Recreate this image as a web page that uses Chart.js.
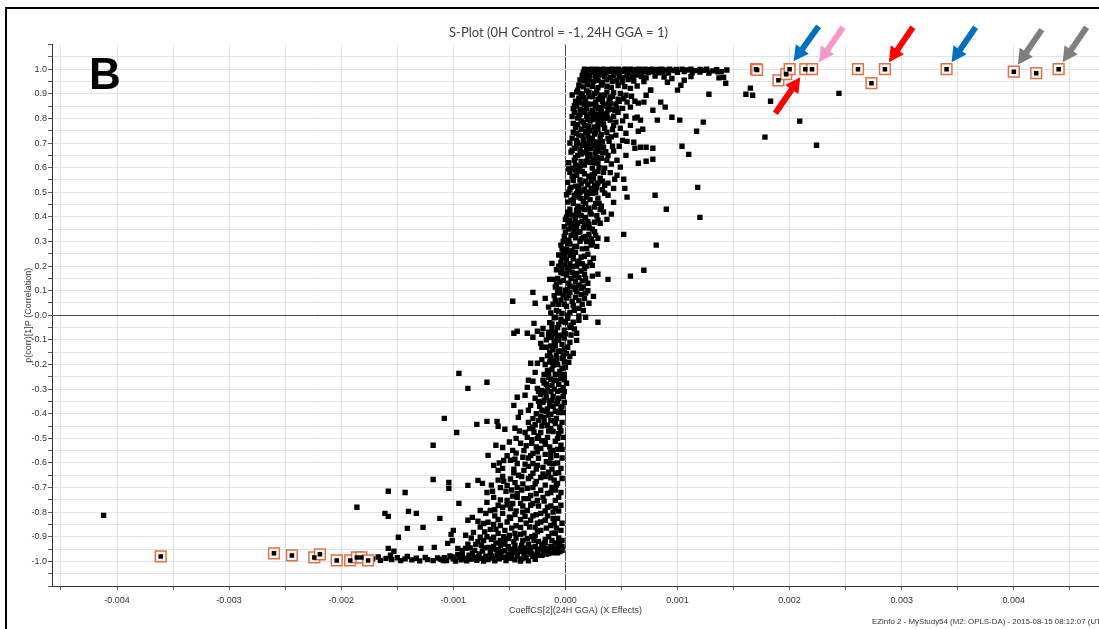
<!DOCTYPE html>
<html>
<head>
<meta charset="utf-8">
<title>S-Plot</title>
<script src="https://cdn.jsdelivr.net/npm/chart.js@4.4.1/dist/chart.umd.min.js"></script>
<style>
  html, body { margin: 0; padding: 0; background: #fff; }
  #wrap { width: 1099px; height: 629px; }
</style>
</head>
<body>
<div id="wrap"><canvas id="splot" width="1099" height="629"></canvas></div>
<script>
// S-plot, values
// x = CoeffCS[2](24H GGA), y = p(corr)[1]P

// dense top band, corr close to 1
const topBand = [
  [17e-5,1.0],[20e-5,0.998],[23e-5,1.0],[26e-5,0.996],[28e-5,1.0],[31e-5,0.998],[34e-5,1.0],[37e-5,0.995],[39e-5,0.999],[42e-5,1.0],
  [45e-5,0.997],[47e-5,1.0],[50e-5,0.996],[53e-5,1.0],[55e-5,0.998],[58e-5,1.0],[61e-5,0.995],[63e-5,0.999],[66e-5,1.0],[69e-5,0.997],
  [71e-5,1.0],[74e-5,0.998],[77e-5,1.0],[79e-5,0.996],[82e-5,0.999],[86e-5,1.0],[89e-5,0.997],[93e-5,1.0],[97e-5,0.995],[99e-5,0.999],
  [104e-5,1.0],[108e-5,0.997],[112e-5,1.0],[115e-5,0.994],[120e-5,0.999],[123e-5,0.996],[126e-5,1.0],[131e-5,0.993],[135e-5,0.998],[139e-5,0.99],[144e-5,0.997],
  [16e-5,0.988],[19e-5,0.985],[24e-5,0.99],[27e-5,0.986],[32e-5,0.989],[36e-5,0.984],[40e-5,0.99],[44e-5,0.987],[48e-5,0.985],[52e-5,0.99],
  [56e-5,0.986],[61e-5,0.988],[65e-5,0.984],[70e-5,0.989],[74e-5,0.986],[78e-5,0.99],[83e-5,0.985],[87e-5,0.988],[92e-5,0.984],[100e-5,0.987],
  [106e-5,0.99],[113e-5,0.985],[120e-5,0.988],[128e-5,0.984],[136e-5,0.989],
  [15e-5,0.975],[18e-5,0.97],[22e-5,0.974],[27e-5,0.968],[31e-5,0.976],[35e-5,0.971],[40e-5,0.967],[43e-5,0.975],[48e-5,0.97],[51e-5,0.966],
  [55e-5,0.974],[60e-5,0.969],[64e-5,0.976],[68e-5,0.97],[72e-5,0.965],[80e-5,0.972],[88e-5,0.968],[95e-5,0.962],[112e-5,0.97],[137e-5,0.965],
  [13e-5,0.956],[17e-5,0.952],[21e-5,0.958],[25e-5,0.95],[29e-5,0.955],[33e-5,0.947],[37e-5,0.957],[42e-5,0.951],[46e-5,0.954],[51e-5,0.948],
  [56e-5,0.958],[61e-5,0.952],[70e-5,0.95],[91e-5,0.947],[106e-5,0.955],[141e-5,0.967],[143e-5,0.943],
  [12e-5,0.935],[16e-5,0.928],[20e-5,0.937],[24e-5,0.93],[29e-5,0.925],[32e-5,0.936],[37e-5,0.931],[41e-5,0.926],[47e-5,0.934],[53e-5,0.929],
  [58e-5,0.922],[64e-5,0.932],[76e-5,0.915],[100e-5,0.915],[103e-5,0.935]
];

// the upper stem, corr 0 .. 0.92
const upperStem = [
  [10e-5,0.907],[12e-5,0.882],[15e-5,0.898],[18e-5,0.874],[21e-5,0.89],[23e-5,0.858],[26e-5,0.902],[29e-5,0.878],[31e-5,0.894],[34e-5,0.85],
  [37e-5,0.907],[39e-5,0.874],[42e-5,0.89],[45e-5,0.858],[49e-5,0.902],[10e-5,0.85],[13e-5,0.837],[19e-5,0.841],[24e-5,0.833],[29e-5,0.841],
  [36e-5,0.858],[41e-5,0.837],[47e-5,0.878],[51e-5,0.841],[54e-5,0.894],[55e-5,0.866],[59e-5,0.89],[65e-5,0.862],[70e-5,0.866],[72e-5,0.894],
  [76e-5,0.915],[78e-5,0.833],[85e-5,0.866],[89e-5,0.846],[15e-5,0.862],[21e-5,0.907],[33e-5,0.87],[44e-5,0.833],[58e-5,0.846],[9e-5,0.87],
  [8e-5,0.825],[11e-5,0.801],[13e-5,0.817],[16e-5,0.785],[19e-5,0.809],[21e-5,0.768],[24e-5,0.825],[27e-5,0.797],[29e-5,0.776],[32e-5,0.813],
  [35e-5,0.76],[37e-5,0.821],[40e-5,0.793],[43e-5,0.772],[47e-5,0.825],[9e-5,0.764],[14e-5,0.756],[22e-5,0.789],[29e-5,0.756],[34e-5,0.797],
  [45e-5,0.785],[49e-5,0.76],[54e-5,0.809],[58e-5,0.772],[64e-5,0.805],[67e-5,0.793],[62e-5,0.801],[69e-5,0.756],[82e-5,0.793],[95e-5,0.805],
  [102e-5,0.793],[123e-5,0.785],[43e-5,0.809],
  [7e-5,0.744],[10e-5,0.711],[12e-5,0.732],[15e-5,0.691],[18e-5,0.748],[21e-5,0.715],[23e-5,0.679],[26e-5,0.736],[29e-5,0.703],[31e-5,0.724],
  [34e-5,0.683],[37e-5,0.744],[39e-5,0.707],[8e-5,0.679],[13e-5,0.671],[20e-5,0.695],[28e-5,0.671],[42e-5,0.687],[45e-5,0.732],[48e-5,0.687],
  [51e-5,0.711],[55e-5,0.707],[61e-5,0.703],[62e-5,0.679],[65e-5,0.748],[67e-5,0.683],[72e-5,0.683],[78e-5,0.679],[104e-5,0.687],[117e-5,0.748],[54e-5,0.74],
  [5e-5,0.663],[8e-5,0.63],[11e-5,0.65],[13e-5,0.606],[16e-5,0.663],[19e-5,0.626],[21e-5,0.646],[24e-5,0.598],[27e-5,0.659],[29e-5,0.618],
  [32e-5,0.638],[35e-5,0.598],[6e-5,0.598],[12e-5,0.589],[22e-5,0.622],[38e-5,0.65],[43e-5,0.667],[46e-5,0.63],[49e-5,0.602],[65e-5,0.618],
  [72e-5,0.626],[78e-5,0.634],[110e-5,0.654],[54e-5,0.65],[29e-5,0.667],
  [4e-5,0.581],[7e-5,0.549],[10e-5,0.569],[12e-5,0.524],[15e-5,0.585],[18e-5,0.545],[21e-5,0.565],[23e-5,0.516],[26e-5,0.577],[29e-5,0.537],
  [31e-5,0.557],[4e-5,0.512],[11e-5,0.508],[17e-5,0.512],[35e-5,0.528],[38e-5,0.537],[43e-5,0.516],[44e-5,0.553],[46e-5,0.569],[52e-5,0.553],
  [53e-5,0.516],[34e-5,0.581],[118e-5,0.52],[40e-5,0.58],
  [3e-5,0.5],[5e-5,0.467],[8e-5,0.488],[11e-5,0.443],[13e-5,0.5],[16e-5,0.463],[19e-5,0.48],[21e-5,0.435],[24e-5,0.496],[27e-5,0.455],
  [29e-5,0.476],[4e-5,0.431],[10e-5,0.427],[15e-5,0.439],[32e-5,0.443],[38e-5,0.488],[43e-5,0.459],[55e-5,0.48],[80e-5,0.488],[90e-5,0.431],[35e-5,0.496],
  [2e-5,0.419],[4e-5,0.386],[7e-5,0.407],[10e-5,0.362],[12e-5,0.419],[15e-5,0.382],[18e-5,0.398],[21e-5,0.354],[23e-5,0.411],[26e-5,0.378],
  [29e-5,0.386],[31e-5,0.374],[3e-5,0.35],[8e-5,0.346],[41e-5,0.411],[37e-5,0.39],[120e-5,0.398],[34e-5,0.42],
  [0,0.337],[3e-5,0.305],[5e-5,0.325],[8e-5,0.28],[11e-5,0.337],[13e-5,0.301],[16e-5,0.317],[19e-5,0.272],[21e-5,0.329],[24e-5,0.297],
  [27e-5,0.325],[1e-5,0.268],[6e-5,0.264],[29e-5,0.313],[37e-5,0.309],[52e-5,0.329],[81e-5,0.285],[28e-5,0.28],[-2e-5,0.3],[-3e-5,0.27],
  [-2e-5,0.256],[1e-5,0.224],[4e-5,0.244],[6e-5,0.199],[9e-5,0.256],[12e-5,0.22],[14e-5,0.236],[17e-5,0.191],[20e-5,0.248],[22e-5,0.215],
  [-3e-5,0.191],[3e-5,0.183],[24e-5,0.203],[-12e-5,0.211],[70e-5,0.183],[25e-5,0.232],[-4e-5,0.215],
  [-4e-5,0.175],[-2e-5,0.142],[1e-5,0.163],[4e-5,0.118],[6e-5,0.175],[9e-5,0.138],[12e-5,0.154],[14e-5,0.11],[17e-5,0.167],[20e-5,0.13],
  [-14e-5,0.146],[-11e-5,0.146],[29e-5,0.167],[38e-5,0.146],[58e-5,0.159],[12e-5,0.122],[-5e-5,0.106],[0,0.102],[24e-5,0.159],[-8e-5,0.126],
  [-7e-5,0.093],[-4e-5,0.061],[-2e-5,0.081],[1e-5,0.037],[4e-5,0.093],[6e-5,0.057],[9e-5,0.073],[12e-5,0.028],[14e-5,0.085],[-8e-5,0.02],
  [-3e-5,0.008],[4e-5,0.012],[17e-5,0.069],[25e-5,0.077],[-15e-5,0.033],[-29e-5,0.093],[-27e-5,0.049],[-47e-5,0.057],[21e-5,0.049],[-18e-5,0.069],
  [-11e-5,0.045],[9e-5,0.106]
];

// more of the crowded stem above zero
const upperFill = [
  [6e-5,0.895],[14e-5,0.9],[27e-5,0.865],[40e-5,0.86],[48e-5,0.87],[52e-5,0.88],[62e-5,0.87],[17e-5,0.855],[31e-5,0.845],
  [7e-5,0.84],[17e-5,0.825],[25e-5,0.81],[31e-5,0.78],[38e-5,0.8],[42e-5,0.755],[51e-5,0.79],[11e-5,0.775],[20e-5,0.795],[26e-5,0.765],[35e-5,0.815],
  [6e-5,0.72],[16e-5,0.71],[24e-5,0.72],[33e-5,0.705],[41e-5,0.725],[10e-5,0.69],[19e-5,0.675],[27e-5,0.69],[36e-5,0.665],[9e-5,0.64],
  [14e-5,0.625],[18e-5,0.66],[25e-5,0.635],[30e-5,0.6],[41e-5,0.615],[3e-5,0.62],
  [6e-5,0.565],[13e-5,0.55],[20e-5,0.53],[25e-5,0.555],[33e-5,0.545],[2e-5,0.54],[9e-5,0.525],[15e-5,0.505],[27e-5,0.5],[7e-5,0.47],
  [12e-5,0.48],[18e-5,0.455],[22e-5,0.47],[2e-5,0.46],[30e-5,0.455],
  [1e-5,0.4],[6e-5,0.37],[9e-5,0.39],[14e-5,0.405],[17e-5,0.365],[20e-5,0.38],[24e-5,0.35],[5e-5,0.355],[-1e-5,0.36],[13e-5,0.34],
  [18e-5,0.32],[9e-5,0.315],[2e-5,0.29],[23e-5,0.31],
  [-1e-5,0.24],[7e-5,0.23],[10e-5,0.2],[15e-5,0.21],[-6e-5,0.2],[2e-5,0.195],[8e-5,0.16],[15e-5,0.14],[-7e-5,0.15],[3e-5,0.13],
  [10e-5,0.095],[-10e-5,0.08],[1e-5,0.07],[7e-5,0.04],[-6e-5,0.045],[16e-5,0.02],[-13e-5,0.01],
  [11e-5,0.915],[19e-5,0.912],[28e-5,0.91],[35e-5,0.895],[43e-5,0.905],[24e-5,0.888],[16e-5,0.885],[33e-5,0.884],[40e-5,0.884],
  [12e-5,0.866],[20e-5,0.858],[27e-5,0.85],[39e-5,0.848],[8e-5,0.852],[17e-5,0.832],[32e-5,0.828],[38e-5,0.835],[46e-5,0.842],[22e-5,0.818],
  [28e-5,0.818],[12e-5,0.81],[6e-5,0.808],
  [14e-5,0.79],[24e-5,0.795],[30e-5,0.8],[17e-5,0.77],[34e-5,0.775],[7e-5,0.78],[22e-5,0.75],[27e-5,0.745],[10e-5,0.74],[32e-5,0.735],
  [15e-5,0.73],[38e-5,0.72],[20e-5,0.73],[25e-5,0.705],[4e-5,0.7],
  [11e-5,0.7],[17e-5,0.695],[23e-5,0.69],[31e-5,0.685],[6e-5,0.67],[14e-5,0.655],[22e-5,0.655],[33e-5,0.66],[26e-5,0.62],[17e-5,0.61],
  [9e-5,0.61],[37e-5,0.63],[20e-5,0.645],[28e-5,0.64],
  [3e-5,0.595],[9e-5,0.59],[17e-5,0.575],[24e-5,0.57],[29e-5,0.585],[7e-5,0.56],[14e-5,0.535],[23e-5,0.545],[28e-5,0.52],[5e-5,0.52],
  [19e-5,0.5],[10e-5,0.495],[33e-5,0.51],[26e-5,0.53],
  [1e-5,0.49],[7e-5,0.455],[14e-5,0.475],[17e-5,0.43],[22e-5,0.42],[26e-5,0.44],[11e-5,0.41],[4e-5,0.41],[20e-5,0.495],[31e-5,0.43],[28e-5,0.405],
  [0,0.39],[3e-5,0.375],[11e-5,0.375],[16e-5,0.355],[21e-5,0.37],[26e-5,0.34],[7e-5,0.33],[14e-5,0.31],[19e-5,0.3],[-1e-5,0.32],[4e-5,0.29],[23e-5,0.285],
  [-4e-5,0.285],[2e-5,0.26],[10e-5,0.28],[15e-5,0.27],[17e-5,0.24],[7e-5,0.25],[-3e-5,0.235],[11e-5,0.21],[19e-5,0.2],[-6e-5,0.245],[4e-5,0.21],[-1e-5,0.205],
  [-8e-5,0.185],[-2e-5,0.17],[5e-5,0.15],[10e-5,0.17],[14e-5,0.18],[18e-5,0.15],[-5e-5,0.135],[8e-5,0.115],[16e-5,0.115],[-9e-5,0.115],[2e-5,0.105],[20e-5,0.1],
  [-5e-5,0.09],[3e-5,0.08],[12e-5,0.06],[-9e-5,0.06],[-1e-5,0.045],[8e-5,0.02],[15e-5,0.045],[-6e-5,0.015],[2e-5,0.0],[18e-5,0.09]
];

// the lower stem, corr 0 .. -0.95
const lowerStem = [
  [-9e-5,-0.008],[-6e-5,-0.037],[-4e-5,-0.016],[-1e-5,-0.061],[2e-5,-0.012],[4e-5,-0.049],[7e-5,-0.028],[10e-5,-0.073],[12e-5,-0.02],[-11e-5,-0.073],
  [-4e-5,-0.081],[18e-5,-0.008],[29e-5,-0.028],[-46e-5,-0.073],[-43e-5,-0.065],[-34e-5,-0.073],[-25e-5,-0.065],[-21e-5,-0.077],[-28e-5,-0.033],[-20e-5,-0.053],
  [-15e-5,-0.069],[-12e-5,-0.053],[12e-5,-0.003],
  [-12e-5,-0.089],[-9e-5,-0.122],[-6e-5,-0.102],[-4e-5,-0.146],[-1e-5,-0.093],[2e-5,-0.13],[4e-5,-0.11],[7e-5,-0.154],[-14e-5,-0.15],[-8e-5,-0.163],
  [-29e-5,-0.089],[-22e-5,-0.114],[-21e-5,-0.13],[10e-5,-0.102],[-3e-5,-0.118],[-17e-5,-0.1],
  [-13e-5,-0.171],[-11e-5,-0.203],[-8e-5,-0.183],[-5e-5,-0.228],[-3e-5,-0.175],[0,-0.211],[3e-5,-0.191],[-16e-5,-0.224],[-19e-5,-0.24],[-31e-5,-0.195],
  [-25e-5,-0.195],[-27e-5,-0.232],[-4e-5,-0.244],[4e-5,-0.167],[-21e-5,-0.18],
  [-15e-5,-0.252],[-12e-5,-0.285],[-10e-5,-0.264],[-7e-5,-0.309],[-4e-5,-0.256],[-2e-5,-0.293],[-18e-5,-0.313],[-33e-5,-0.264],[-29e-5,-0.268],[-34e-5,-0.293],
  [-20e-5,-0.264],[-21e-5,-0.305],[-25e-5,-0.297],[-36e-5,-0.325],[-43e-5,-0.333],[1e-5,-0.276],[-22e-5,-0.321],
  [-17e-5,-0.333],[-14e-5,-0.366],[-12e-5,-0.346],[-9e-5,-0.39],[-6e-5,-0.337],[-4e-5,-0.374],[-1e-5,-0.354],[-21e-5,-0.386],[-46e-5,-0.366],[-31e-5,-0.366],
  [-27e-5,-0.337],[-40e-5,-0.394],[-20e-5,-0.354],[-33e-5,-0.386],[-13e-5,-0.402],
  [-19e-5,-0.415],[-16e-5,-0.447],[-13e-5,-0.427],[-11e-5,-0.472],[-8e-5,-0.419],[-5e-5,-0.455],[-3e-5,-0.435],[-42e-5,-0.415],[-61e-5,-0.431],[-60e-5,-0.451],
  [-54e-5,-0.463],[-45e-5,-0.459],[-29e-5,-0.455],[-24e-5,-0.427],[-70e-5,-0.431],[-79e-5,-0.443],[-36e-5,-0.476],[-33e-5,-0.435],[-22e-5,-0.476],
  [-34e-5,-0.496],[-25e-5,-0.5],[-16e-5,-0.496],[-9e-5,-0.512],[-40e-5,-0.52],[-56e-5,-0.537],[-62e-5,-0.528],[-22e-5,-0.541],[-29e-5,-0.561],[-13e-5,-0.557],
  [-4e-5,-0.528],[-47e-5,-0.549],[-18e-5,-0.524],[-11e-5,-0.549],[-37e-5,-0.55],[-2e-5,-0.496],
  [-38e-5,-0.577],[-13e-5,-0.577],[-69e-5,-0.569],[-64e-5,-0.61],[-56e-5,-0.622],[-43e-5,-0.602],[-37e-5,-0.63],[-29e-5,-0.602],[-20e-5,-0.618],[-11e-5,-0.602],
  [-9e-5,-0.642],[-42e-5,-0.65],[-49e-5,-0.589],[-24e-5,-0.581],[-4e-5,-0.622],[-33e-5,-0.614],[-15e-5,-0.638],[-3e-5,-0.58],[-29e-5,-0.642],
  [-22e-5,-0.659],[-33e-5,-0.663],[-78e-5,-0.671],[-74e-5,-0.683],[-87e-5,-0.691],[-70e-5,-0.72],[-52e-5,-0.691],[-43e-5,-0.699],[-34e-5,-0.703],[-22e-5,-0.711],
  [-12e-5,-0.699],[-7e-5,-0.683],[-43e-5,-0.724],[-31e-5,-0.732],[-16e-5,-0.724],[-60e-5,-0.67],[-3e-5,-0.663],[-49e-5,-0.665],[-4e-5,-0.72],
  [-64e-5,-0.74],[-60e-5,-0.772],[-76e-5,-0.793],[-67e-5,-0.793],[-52e-5,-0.752],[-49e-5,-0.785],[-40e-5,-0.764],[-34e-5,-0.793],[-25e-5,-0.752],[-16e-5,-0.78],
  [-9e-5,-0.752],[-22e-5,-0.805],[-43e-5,-0.74],[-31e-5,-0.772],[-11e-5,-0.8],[-4e-5,-0.772],[-56e-5,-0.805],
  [-87e-5,-0.833],[-83e-5,-0.821],[-78e-5,-0.837],[-73e-5,-0.846],[-69e-5,-0.841],[-64e-5,-0.85],[-58e-5,-0.854],[-49e-5,-0.825],[-40e-5,-0.862],[-31e-5,-0.833],
  [-22e-5,-0.874],[-13e-5,-0.854],[-7e-5,-0.825],[-45e-5,-0.886],[-82e-5,-0.882],[-54e-5,-0.874],[-36e-5,-0.817],[-4e-5,-0.874],[-18e-5,-0.833],[-27e-5,-0.862],
  [-60e-5,-0.886],[-9e-5,-0.886],
  [-89e-5,-0.894],[-73e-5,-0.915],[-64e-5,-0.902],[-58e-5,-0.935],[-51e-5,-0.907],[-45e-5,-0.935],[-38e-5,-0.915],[-31e-5,-0.943],[-24e-5,-0.919],[-18e-5,-0.947],
  [-12e-5,-0.915],[-6e-5,-0.939],[-69e-5,-0.943],[-80e-5,-0.931],[-47e-5,-0.955],[-34e-5,-0.907],[-18e-5,-0.911],[-76e-5,-0.902],[-40e-5,-0.947],[-27e-5,-0.894],
  [-54e-5,-0.919],[-64e-5,-0.939],[-13e-5,-0.939],[-3e-5,-0.915]
];

// more of the crowded stem below zero
const lowerFill = [
  [-7e-5,-0.05],[0,-0.03],[-14e-5,-0.03],[5e-5,-0.08],[-9e-5,-0.07],[-17e-5,-0.13],[-11e-5,-0.14],[-2e-5,-0.165],[-7e-5,-0.2],[-14e-5,-0.19],
  [-1e-5,-0.24],[-9e-5,-0.24],[-17e-5,-0.28],[-6e-5,-0.28],[-1e-5,-0.31],[-13e-5,-0.31],[-24e-5,-0.35],[-8e-5,-0.36],[-16e-5,-0.38],[-2e-5,-0.395],
  [-26e-5,-0.4],[-10e-5,-0.43],[-21e-5,-0.45],[-15e-5,-0.47],[-6e-5,-0.48],[-28e-5,-0.475],
  [-30e-5,-0.52],[-21e-5,-0.51],[-7e-5,-0.545],[-26e-5,-0.535],[-44e-5,-0.56],[-52e-5,-0.57],[-33e-5,-0.58],[-17e-5,-0.595],[-7e-5,-0.6],[-46e-5,-0.625],
  [-26e-5,-0.625],[-12e-5,-0.625],[-59e-5,-0.6],[-39e-5,-0.655],[-18e-5,-0.655],[-10e-5,-0.67],[-56e-5,-0.655],[-27e-5,-0.685],[-38e-5,-0.685],[-48e-5,-0.71],
  [-58e-5,-0.7],[-65e-5,-0.715],[-26e-5,-0.725],[-9e-5,-0.71],[-37e-5,-0.745],[-47e-5,-0.765],[-56e-5,-0.78],[-19e-5,-0.755],[-29e-5,-0.765],[-13e-5,-0.775],
  [-6e-5,-0.795],[-38e-5,-0.8],[-45e-5,-0.81],[-63e-5,-0.815],[-71e-5,-0.805],[-26e-5,-0.81],[-16e-5,-0.815],[-52e-5,-0.84],[-35e-5,-0.845],[-44e-5,-0.855],
  [-25e-5,-0.845],[-10e-5,-0.845],[-76e-5,-0.86],[-67e-5,-0.87],[-50e-5,-0.895],[-30e-5,-0.9],[-15e-5,-0.9],[-6e-5,-0.905],[-40e-5,-0.89],[-70e-5,-0.9],
  [-84e-5,-0.905],[-58e-5,-0.915],[-46e-5,-0.92],[-33e-5,-0.93],[-21e-5,-0.93],[-9e-5,-0.925],[-78e-5,-0.92],[-87e-5,-0.93],[-62e-5,-0.925],[-51e-5,-0.94],
  [-36e-5,-0.945],[-27e-5,-0.94],[-15e-5,-0.95],[-3e-5,-0.94],[-72e-5,-0.945],[-42e-5,-0.96],[-60e-5,-0.955],[-20e-5,-0.94],[-92e-5,-0.955],[-81e-5,-0.955],
  [-10e-5,-0.01],[-2e-5,-0.025],[5e-5,-0.04],[-12e-5,-0.035],[-7e-5,-0.085],[0,-0.075],[8e-5,-0.055],[-15e-5,-0.09],
  [-10e-5,-0.105],[-1e-5,-0.135],[-13e-5,-0.125],[-6e-5,-0.145],[1e-5,-0.155],[-16e-5,-0.165],[-10e-5,-0.185],[-1e-5,-0.19],[-18e-5,-0.2],[-12e-5,-0.22],
  [-3e-5,-0.215],[-7e-5,-0.24],[-15e-5,-0.235],
  [-13e-5,-0.26],[-8e-5,-0.265],[-1e-5,-0.262],[-19e-5,-0.275],[-10e-5,-0.3],[-4e-5,-0.305],[-16e-5,-0.295],[-24e-5,-0.31],[-11e-5,-0.33],[-2e-5,-0.33],
  [-19e-5,-0.345],[-7e-5,-0.35],[-14e-5,-0.35],[-23e-5,-0.37],[-11e-5,-0.37],[-3e-5,-0.37],[-17e-5,-0.39],[-6e-5,-0.395],
  [-15e-5,-0.405],[-22e-5,-0.41],[-29e-5,-0.42],[-9e-5,-0.44],[-19e-5,-0.435],[-27e-5,-0.445],[-4e-5,-0.47],[-13e-5,-0.46],[-32e-5,-0.46],[-41e-5,-0.47],
  [-24e-5,-0.49],[-18e-5,-0.51],[-7e-5,-0.5],[-30e-5,-0.505],[-44e-5,-0.5],[-50e-5,-0.515],[-14e-5,-0.535],[-35e-5,-0.53],[-3e-5,-0.545],[-25e-5,-0.555],
  [-18e-5,-0.565],[-8e-5,-0.57],[-31e-5,-0.57],[-45e-5,-0.585],[-55e-5,-0.59],[-14e-5,-0.6],[-36e-5,-0.605],[-25e-5,-0.61],[-6e-5,-0.64],[-20e-5,-0.645],
  [-31e-5,-0.655],[-46e-5,-0.64],[-60e-5,-0.63],[-13e-5,-0.66],[-26e-5,-0.675],[-45e-5,-0.68],[-55e-5,-0.675],[-8e-5,-0.69],[-18e-5,-0.69],[-66e-5,-0.69],
  [-29e-5,-0.7],[-39e-5,-0.71],[-53e-5,-0.715],[-13e-5,-0.72],[-20e-5,-0.74],[-33e-5,-0.745],[-47e-5,-0.735],[-6e-5,-0.74],[-58e-5,-0.75],[-70e-5,-0.76],
  [-24e-5,-0.775],[-38e-5,-0.775],[-52e-5,-0.77],[-9e-5,-0.785],[-18e-5,-0.795],[-44e-5,-0.795],[-63e-5,-0.79],[-29e-5,-0.815],[-50e-5,-0.82],[-11e-5,-0.825],
  [-40e-5,-0.83],[-60e-5,-0.83],[-22e-5,-0.84],[-32e-5,-0.86],[-3e-5,-0.845],
  [-17e-5,-0.865],[-48e-5,-0.865],[-62e-5,-0.87],[-72e-5,-0.88],[-8e-5,-0.865],[-25e-5,-0.88],[-37e-5,-0.885],[-55e-5,-0.9],[-12e-5,-0.885],[-44e-5,-0.905],
  [-66e-5,-0.91],[-28e-5,-0.915],[-18e-5,-0.925],[-5e-5,-0.92],[-39e-5,-0.935],[-55e-5,-0.93],[-75e-5,-0.935],[-24e-5,-0.95],[-10e-5,-0.945],[-49e-5,-0.95],
  [-66e-5,-0.945],[-85e-5,-0.945],[-33e-5,-0.955]
];

// dense bottom band, corr close to -1
const bottomBand = [
  [-172e-5,-0.99],[-167e-5,-0.982],[-165e-5,-0.996],[-160e-5,-0.988],[-156e-5,-0.975],[-155e-5,-0.993],[-150e-5,-0.985],[-147e-5,-0.997],[-143e-5,-0.99],[-141e-5,-0.98],
  [-137e-5,-0.994],[-133e-5,-0.987],[-130e-5,-0.998],[-125e-5,-0.984],[-123e-5,-0.993],[-118e-5,-0.997],[-114e-5,-0.986],
  [-111e-5,-0.992],[-108e-5,-0.985],[-106e-5,-0.997],[-103e-5,-0.978],[-100e-5,-0.99],[-98e-5,-0.999],[-95e-5,-0.982],[-93e-5,-0.994],[-90e-5,-0.987],[-88e-5,-0.998],
  [-86e-5,-0.975],[-84e-5,-0.991],[-81e-5,-0.984],[-79e-5,-0.996],[-77e-5,-0.97],[-75e-5,-0.988],[-73e-5,-0.999],[-71e-5,-0.979],[-69e-5,-0.993],[-67e-5,-0.965],
  [-65e-5,-0.986],[-63e-5,-0.998],[-61e-5,-0.975],[-59e-5,-0.99],[-57e-5,-0.96],[-55e-5,-0.983],[-53e-5,-0.997],[-51e-5,-0.972],[-49e-5,-0.988],[-47e-5,-0.963],
  [-45e-5,-0.994],[-43e-5,-0.978],[-41e-5,-0.958],[-39e-5,-0.99],[-37e-5,-0.969],[-35e-5,-0.985],[-33e-5,-0.998],[-31e-5,-0.962],[-29e-5,-0.979],[-27e-5,-0.992],
  [-25e-5,-0.958],[-23e-5,-0.975],[-21e-5,-0.975],[-19e-5,-0.963],[-17e-5,-0.97],[-15e-5,-0.968],[-13e-5,-0.96],[-11e-5,-0.965],[-9e-5,-0.958],[-7e-5,-0.965],
  [-5e-5,-0.96],[-3e-5,-0.955],
  [-96e-5,-0.972],[-83e-5,-0.967],[-74e-5,-0.958],[-62e-5,-0.952],[-54e-5,-0.957],[-48e-5,-0.975],[-38e-5,-0.952],[-30e-5,-0.97],[-22e-5,-0.95],[-44e-5,-0.955],
  [-66e-5,-0.978],[-58e-5,-0.97],[-26e-5,-0.975],[-34e-5,-0.962],[-40e-5,-0.999],[-52e-5,-0.985],[-70e-5,-0.99],[-78e-5,-0.983],[-87e-5,-0.99],[-92e-5,-0.975],
  [-101e-5,-0.982],[-109e-5,-0.997],[-8e-5,-0.95],[-16e-5,-0.958],[-12e-5,-0.962],[-6e-5,-0.952]
];

// scattered points away from the S
const strays = [
  [161e-5,0.898],[165e-5,0.923],[167e-5,0.894],[183e-5,0.87],[209e-5,0.789],[178e-5,0.724],[224e-5,0.691],[244e-5,0.902],[128e-5,0.898],[141e-5,0.967],
  [-412e-5,-0.813],
  [-95e-5,-0.236],[-70e-5,-0.272],[-87e-5,-0.297],
  [-108e-5,-0.419],[-97e-5,-0.476],[-118e-5,-0.528],
  [-118e-5,-0.667],[-104e-5,-0.679],[-104e-5,-0.703],[-158e-5,-0.715],[-143e-5,-0.72],
  [-95e-5,-0.764],[-186e-5,-0.78],[-161e-5,-0.805],[-140e-5,-0.797],[-133e-5,-0.805],
  [-158e-5,-0.817],[-112e-5,-0.825],[-141e-5,-0.866],[-127e-5,-0.862],[-100e-5,-0.874],[-102e-5,-0.89],
  [-149e-5,-0.902],[-158e-5,-0.947],[-153e-5,-0.959],[-129e-5,-0.947],[-117e-5,-0.943],
  [-101e-5,-0.915],[-105e-5,-0.927],[-96e-5,-0.947],[-89e-5,-0.947]
];

// variables marked with an orange box
const markedTop = [
  [170e-5,1.0],[171e-5,0.997],[190e-5,0.955],[197e-5,0.98],[200e-5,1.0],[214e-5,1.0],[220e-5,1.0],
  [261e-5,1.0],[273e-5,0.943],[285e-5,1.0],[340e-5,1.0],[400e-5,0.99],[420e-5,0.984],[440e-5,1.0]
];
const markedBottom = [
  [-361e-5,-0.98],[-260e-5,-0.967],[-244e-5,-0.976],[-224e-5,-0.984],[-219e-5,-0.971],
  [-204e-5,-0.996],[-192e-5,-0.996],[-186e-5,-0.984],[-182e-5,-0.984],[-176e-5,-0.996]
];

// ticks and grid
const xTickValues = [-0.0045, -0.004, -0.0035, -0.003, -0.0025, -0.002, -0.0015, -0.001, -0.0005, 0,
  0.0005, 0.001, 0.0015, 0.002, 0.0025, 0.003, 0.0035, 0.004, 0.0045];
const yTickValues = [-1.1, -1.05, -1, -0.95, -0.9, -0.85, -0.8, -0.75, -0.7, -0.65, -0.6, -0.55, -0.5, -0.45,
  -0.4, -0.35, -0.3, -0.25, -0.2, -0.15, -0.1, -0.05, 0, 0.05, 0.1, 0.15, 0.2, 0.25, 0.3, 0.35, 0.4, 0.45,
  0.5, 0.55, 0.6, 0.65, 0.7, 0.75, 0.8, 0.85, 0.9, 0.95, 1, 1.05, 1.1];

// arrows drawn onto marked points (index into markedTop, pixel offsets of tip and tail)
const arrows = [
  { point: 4, color: '#0070c0', tip: [4, -8], tail: [29, -43] },
  { point: 6, color: '#f799c8', tip: [7, -7], tail: [31, -42] },
  { point: 9, color: '#ff0000', tip: [4, -7], tail: [28, -42] },
  { point: 10, color: '#0070c0', tip: [5, -7], tail: [29, -42] },
  { point: 11, color: '#7f7f7f', tip: [4, -7], tail: [28, -42] },
  { point: 13, color: '#7f7f7f', tip: [4, -7], tail: [28, -42] },
  { point: 5, color: '#ff0000', tip: [-5, 8], tail: [-30, 44] }
];

const toXY = pts => pts.map(([x, y]) => ({ x, y }));
const allPoints = [...topBand, ...upperStem, ...upperFill, ...lowerStem, ...lowerFill, ...bottomBand, ...strays];
const allMarked = [...markedTop, ...markedBottom];

const axisFont = { family: '"Liberation Sans", Arial, sans-serif', size: 9 };

function drawArrow(ctx, x0, y0, x1, y1, color) {
  const len = Math.hypot(x1 - x0, y1 - y0);
  const ang = Math.atan2(y1 - y0, x1 - x0);
  const head = 15, hw = 8, sw = 3;
  ctx.save();
  ctx.translate(x0, y0);
  ctx.rotate(ang);
  ctx.beginPath();
  ctx.moveTo(0, -sw);
  ctx.lineTo(len - head, -sw);
  ctx.lineTo(len - head, -hw);
  ctx.lineTo(len, 0);
  ctx.lineTo(len - head, hw);
  ctx.lineTo(len - head, sw);
  ctx.lineTo(0, sw);
  ctx.closePath();
  ctx.fillStyle = color;
  ctx.fill();
  ctx.restore();
}

const overlay = {
  id: 'overlay',
  afterDatasetsDraw(chart) {
    const ctx = chart.ctx;
    const meta = chart.getDatasetMeta(1);
    arrows.forEach(a => {
      const el = meta.data[a.point];
      drawArrow(ctx, el.x + a.tail[0], el.y + a.tail[1], el.x + a.tip[0], el.y + a.tip[1], a.color);
    });
  },
  afterDraw(chart) {
    const ctx = chart.ctx;
    ctx.save();
    // panel letter
    ctx.fillStyle = '#000';
    ctx.font = 'bold 44px "Liberation Sans", Arial, sans-serif';
    ctx.textBaseline = 'alphabetic';
    ctx.fillText('B', 89, 89);
    // footer
    ctx.font = '7.9px "Liberation Sans", Arial, sans-serif';
    ctx.fillStyle = '#333';
    ctx.fillText('EZinfo 2 - MyStudy54 (M2: OPLS-DA) - 2015-08-15 08:12:07 (UTC)', 872, 624);
    // outer frame
    ctx.strokeStyle = '#000';
    ctx.lineWidth = 2;
    ctx.beginPath();
    ctx.moveTo(6, 629);
    ctx.lineTo(6, 8);
    ctx.lineTo(1099, 8);
    ctx.stroke();
    ctx.restore();
  }
};

const bgPlugin = {
  id: 'bg',
  beforeDraw(chart) {
    const ctx = chart.ctx;
    ctx.save();
    ctx.fillStyle = '#fff';
    ctx.fillRect(0, 0, chart.width, chart.height);
    ctx.restore();
  }
};

new Chart(document.getElementById('splot'), {
  type: 'scatter',
  data: {
    datasets: [
      {
        label: 'variables',
        data: toXY(allPoints),
        pointStyle: 'rect',
        pointRadius: 3.8,
        backgroundColor: '#000',
        borderWidth: 0,
        order: 3
      },
      {
        label: 'marked',
        data: toXY(allMarked),
        pointStyle: 'rect',
        pointRadius: 7.6,
        backgroundColor: '#fbf6f2',
        borderColor: '#d9744b',
        borderWidth: 1.5,
        order: 2
      },
      {
        label: 'marked dots',
        data: toXY(allMarked),
        pointStyle: 'rect',
        pointRadius: 3.2,
        backgroundColor: '#000',
        borderWidth: 0,
        order: 1
      }
    ]
  },
  options: {
    responsive: false,
    animation: false,
    events: [],
    devicePixelRatio: 1,
    layout: { autoPadding: false, padding: { left: 18, right: 0, top: 0, bottom: 10 } },
    plugins: {
      legend: { display: false },
      tooltip: { enabled: false },
      title: {
        display: true,
        text: 'S-Plot (0H Control = -1, 24H GGA = 1)',
        color: '#404040',
        font: { family: 'Lato, "Open Sans", sans-serif', size: 13, weight: 'normal' },
        padding: { top: 25, bottom: 4 }
      }
    },
    scales: {
      x: {
        type: 'linear',
        min: -0.00458,
        max: 0.00476,
        afterBuildTicks: s => { s.ticks = xTickValues.map(v => ({ value: v })); },
        afterFit: s => { s.height = 33; s.paddingLeft = 0; s.paddingRight = 0; },
        grid: {
          color: c => (c.tick && c.tick.value === 0 ? '#4d4d4d' : '#e3e3e3'),
          tickColor: '#555',
          tickLength: 4
        },
        border: { color: '#333' },
        ticks: {
          autoSkip: false,
          maxRotation: 0,
          padding: 5,
          color: '#333',
          font: axisFont,
          callback: v => (Math.round(Math.abs(v) * 10000) % 10 === 0 ? (Math.abs(v) < 1e-9 ? 0 : v).toFixed(3) : '')
        },
        title: {
          display: true,
          text: 'CoeffCS[2](24H GGA) (X Effects)',
          color: '#333',
          font: axisFont,
          padding: { top: 0, bottom: 3 }
        }
      },
      y: {
        type: 'linear',
        min: -1.1,
        max: 1.1,
        afterBuildTicks: s => { s.ticks = yTickValues.map(v => ({ value: v })); },
        afterFit: s => { s.width = 34; s.paddingTop = 0; s.paddingBottom = 0; },
        grid: {
          color: c => {
            const v = c.tick ? c.tick.value : 1;
            if (v === 0) return '#4d4d4d';
            return Math.abs(v) > 1.06 ? 'rgba(0,0,0,0)' : '#e3e3e3';
          },
          tickColor: '#555',
          tickLength: 4
        },
        border: { color: '#333' },
        ticks: {
          autoSkip: false,
          padding: 1,
          color: '#333',
          font: axisFont,
          callback: v => {
            const r = Math.round(v * 100);
            if (r % 10 !== 0 || Math.abs(v) > 1.01) return '';
            return (Math.abs(v) < 1e-9 ? 0 : v).toFixed(1);
          }
        },
        title: {
          display: true,
          text: 'p(corr)[1]P (Correlation)',
          color: '#333',
          font: axisFont,
          padding: { top: 5, bottom: 0 }
        }
      }
    }
  },
  plugins: [bgPlugin, overlay]
});
</script>
</body>
</html>
